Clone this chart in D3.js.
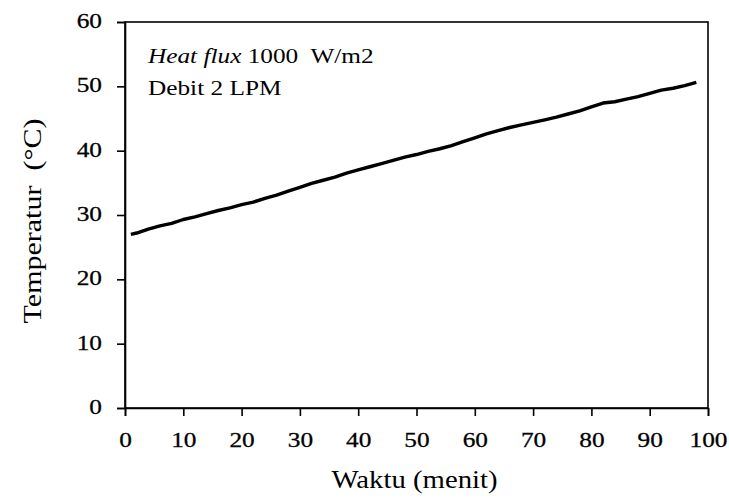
<!DOCTYPE html>
<html>
<head>
<meta charset="utf-8">
<script src="https://cdn.jsdelivr.net/npm/d3@7"></script>
<style>
  body { margin: 0; background: #fff; }
  text { font-family: 'Liberation Serif', 'Times New Roman', serif; fill: #000; }
  .tick text { stroke: #000; stroke-width: 0.3px; }
</style>
</head>
<body>
<script>
const minutes = [1, 2, 4, 6, 8, 10, 12, 14, 16, 18, 20, 22, 24, 26, 28, 30, 32, 34, 36, 38, 40,
    42, 44, 46, 48, 50, 52, 54, 56, 58, 60, 62, 64, 66, 68, 70, 72, 74, 76, 78, 80,
    82, 84, 86, 88, 90, 92, 94, 96, 98]
const temps = [27.0, 27.2, 27.8, 28.3, 28.7, 29.3, 29.7, 30.2, 30.7, 31.1, 31.6, 32.0, 32.6, 33.1, 33.7,
    34.3, 34.9, 35.4, 35.9, 36.5, 37.0, 37.5, 38.0, 38.5, 39.0, 39.4, 39.9, 40.3, 40.8, 41.4,
    42.0, 42.6, 43.1, 43.6, 44.0, 44.4, 44.8, 45.2, 45.7, 46.2, 46.8, 47.4, 47.6, 48.0, 48.4,
    48.9, 49.4, 49.7, 50.1, 50.6]
const xTicks = [0, 10, 20, 30, 40, 50, 60, 70, 80, 90, 100]
const yTicks = [0, 10, 20, 30, 40, 50, 60]

const data = minutes.map((m, i) => ({ m: m, t: temps[i] }))

const W = 729, H = 498
const margin = { top: 22, right: 21, bottom: 90, left: 125 }
const width = W - margin.left - margin.right
const height = H - margin.top - margin.bottom
const sx = 1.15 // the source font runs wider than Liberation Serif

const svg = d3.select('body').append('svg')
    .attr('width', W)
    .attr('height', H)
    .append('g')
        .attr('transform', `translate(${margin.left}, ${margin.top})`)

const x = d3.scaleLinear().domain([0, 100]).range([0, width])
const y = d3.scaleLinear().domain([0, 60]).range([height, 0])

svg.append('rect')
    .attr('width', width)
    .attr('height', height)
    .style('fill', 'none')
    .style('stroke', '#000')
    .style('stroke-width', 1.6)

const xAxis = svg.append('g')
    .attr('transform', `translate(0, ${height})`)
    .call(d3.axisBottom(x).tickValues(xTicks).tickSize(8).tickPadding(15))
xAxis.selectAll('text')
    .style('font-size', '22px')
    .attr('transform', `scale(${sx}, 1)`)

const yAxis = svg.append('g')
    .call(d3.axisLeft(y).tickValues(yTicks).tickSize(8).tickPadding(15))
yAxis.selectAll('text')
    .style('font-size', '22px')
    .attr('x', -23 / sx)
    .attr('dy', '0.25em')
    .attr('transform', `scale(${sx}, 1)`)

svg.selectAll('.domain, .tick line')
    .style('stroke', '#000')
    .style('stroke-width', 1.6)

svg.append('text')
    .attr('transform', `translate(${width / 2 - 2}, ${height + 80}) scale(${sx}, 1)`)
    .style('text-anchor', 'middle')
    .style('font-size', '25px')
    .text('Waktu (menit)')

svg.append('text')
    .attr('transform', `translate(-84, ${height / 2 + 6}) rotate(-90) scale(1.2, 1)`)
    .attr('xml:space', 'preserve')
    .style('text-anchor', 'middle')
    .style('font-size', '25px')
    .text('Temperatur  (°C)')

const note = svg.append('text')
    .attr('transform', `translate(23, 41) scale(${sx}, 1)`)
    .attr('xml:space', 'preserve')
    .style('font-size', '22px')
note.append('tspan').style('font-style', 'italic').text('Heat flux')
note.append('tspan').text(' 1000  W/m2')

svg.append('text')
    .attr('transform', `translate(23, 73) scale(${sx}, 1)`)
    .style('font-size', '22px')
    .text('Debit 2 LPM')

svg.append('path')
    .datum(data)
    .attr('d', d3.line().x(d => x(d.m)).y(d => y(d.t)))
    .style('fill', 'none')
    .style('stroke', '#000')
    .style('stroke-width', 3.4)
    .style('stroke-linejoin', 'round')
</script>
</body>
</html>
